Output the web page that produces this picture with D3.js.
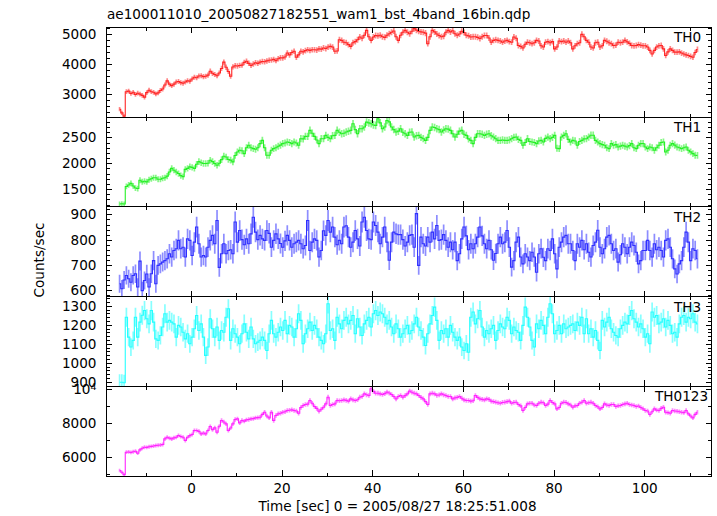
<!DOCTYPE html>
<html><head><meta charset="utf-8">
<script src="https://cdn.jsdelivr.net/npm/d3@7"></script>
<style>
body{margin:0;background:#fff}
svg{display:block}
text{font-family:"DejaVu Sans",sans-serif;font-size:13.6px;fill:#000}
</style>
</head><body><svg id="c" width="717" height="516"></svg>
<script>
const title = "ae100011010_20050827182551_wam1_bst_4band_16bin.qdp";
const xLabel = "Time [sec] 0 = 2005/08/27 18:25:51.008";
const yLabel = "Counts/sec";
const seriesNames = ["TH0","TH1","TH2","TH3","TH0123"];
const seriesColors = ["#ff2424","#24f024","#2f2fff","#24ffff","#ff24ff"];
const binStart = -15.75, binWidth = 0.5;

const th0 = [2500,2380,2270,3080,3100,3020,3060,2990,3030,3000,2960,2900,3050,3130,3080,3060,3010,3040,3120,3170,3300,3440,3330,3280,3330,3400,3420,3380,3360,3400,3440,3430,
3500,3560,3540,3600,3610,3580,3590,3630,3760,3690,3650,3610,3700,3850,4060,3890,3750,3590,3900,3940,3930,3950,3960,4050,4090,4020,3950,4000,4040,4020,4060,4080,
4070,4100,4120,4130,4150,4110,4170,4200,4200,4230,4360,4300,4380,4420,4220,4300,4420,4400,4440,4470,4450,4470,4470,4460,4500,4490,4530,4510,4560,4580,4560,4420,
4430,4800,4780,4720,4700,4640,4580,4700,4740,4800,4890,4850,4950,5110,4900,4780,4890,4940,4930,4950,4900,4880,4950,5000,5050,5090,4900,4780,4950,5050,5110,5050,
5000,5080,5170,5120,5080,5060,5050,5020,4670,4900,5110,5060,4990,4940,4900,4920,5050,5110,5060,5100,5000,4950,4990,5080,5040,4950,4930,4890,4900,4900,4880,4840,
4900,4940,4940,4860,4720,4780,4800,4780,4760,4720,4760,4780,4740,4720,4890,4850,4610,4580,4530,4650,4720,4700,4670,4700,4780,4760,4600,4560,4720,4740,4700,4740,
4500,4560,4760,4740,4760,4720,4760,4700,4500,4600,4670,4700,4980,4900,4780,4720,4560,4530,4700,4720,4560,4600,4780,4750,4700,4670,4610,4620,4720,4700,4720,4780,
4730,4680,4610,4600,4610,4640,4620,4600,4600,4560,4450,4330,4450,4560,4600,4610,4500,4280,4400,4500,4450,4390,4390,4400,4360,4330,4300,4280,4250,4220,4380,4480];

const th1 = [1210,1215,1212,1550,1580,1610,1560,1520,1510,1670,1640,1650,1640,1680,1700,1720,1720,1690,1690,1710,1720,1750,1830,1900,1865,1830,1800,1760,1740,1880,1900,1930,
1920,1900,1980,2030,2010,1994,1994,2000,2058,2030,1994,1962,2000,2070,2135,2120,2071,2060,2026,2150,2218,2250,2240,2186,2300,2346,2300,2282,2270,2300,2378,2442,
2300,2154,2154,2250,2282,2300,2327,2350,2378,2390,2410,2400,2378,2410,2390,2346,2474,2470,2519,2520,2635,2580,2519,2450,2378,2474,2474,2538,2500,2474,2530,2538,
2635,2600,2570,2580,2603,2620,2635,2763,2650,2570,2667,2667,2700,2795,2780,2763,2740,2731,2859,2780,2667,2700,2827,2800,2700,2650,2603,2620,2667,2600,2570,2538,
2600,2603,2506,2530,2538,2500,2474,2442,2500,2635,2700,2690,2667,2650,2603,2640,2667,2660,2635,2570,2506,2560,2620,2635,2560,2538,2470,2442,2378,2500,2570,2570,
2560,2538,2560,2570,2530,2506,2474,2442,2442,2450,2442,2440,2450,2474,2500,2506,2460,2442,2346,2400,2474,2420,2410,2400,2378,2430,2442,2410,2480,2506,2474,2500,
2538,2290,2282,2506,2538,2570,2460,2410,2442,2430,2346,2420,2442,2470,2474,2506,2540,2540,2442,2410,2378,2360,2346,2300,2282,2378,2346,2360,2314,2330,2346,2330,
2314,2340,2378,2300,2282,2346,2378,2380,2314,2282,2314,2300,2250,2300,2346,2400,2410,2218,2250,2346,2378,2350,2314,2300,2282,2300,2314,2250,2220,2186,2154,2150];

const th2 = [625,605,640,658,645,631,658,665,612,715,598,638,664,612,665,717,625,698,704,711,717,724,744,731,757,764,797,764,770,731,803,797,737,790,850,784,731,737,731,770,797,817,784,
876,690,744,784,744,757,760,744,870,
790,836,800,780,803,784,823,889,830,800,817,803,797,836,825,
770,797,823,803,785,770,795,817,797,770,784,790,797,784,764,777,876,757,790,
803,797,731,757,835,817,876,830,850,810,
780,797,784,850,855,810,770,790,836,803,775,870,889,836,803,800,870,856,830,784,810,850,790,718,790,830,823,820,820,800,775,790,817,820,770,903,698,810,784,775,
810,790,830,803,856,797,800,820,797,770,790,760,790,717,744,803,850,815,760,784,764,784,810,850,815,784,764,797,760,718,745,784,810,784,790,836,770,
691,717,790,810,731,704,744,731,717,750,731,671,744,764,730,717,764,757,803,744,684,770,790,810,817,784,784,757,717,784,770,797,760,784,750,731,777,790,837,770,
744,764,810,817,784,757,764,711,740,784,770,744,770,790,777,750,704,717,757,757,797,757,731,784,760,770,757,731,797,803,770,724,684,664,704,717,770,830,790,717,
764,757,724];

const th3 = [898,898,895,1240,1135,1083,1118,1240,1135,1214,1250,1275,1232,1205,1275,1214,1126,1118,1144,1188,
1258,1214,1223,1214,1205,1135,1197,1188,1161,1126,1153,1100,1135,1179,1249,1170,1205,1135,1039,1083,
1232,1179,1135,1188,1118,1170,1161,1240,1284,1118,1179,1153,1135,1100,1153,1205,1161,1126,1188,1126,
1100,1109,1118,1135,1118,1065,1153,1223,1153,1135,1161,1188,1170,1223,1153,1197,1188,1135,1179,1258,
1223,1100,1153,1179,1214,1170,1197,1179,1135,1118,1100,1153,1311,1170,1179,1118,1240,1205,1179,1223,
1240,1205,1223,1249,1153,1232,1188,1144,1205,1223,1240,1188,1258,1275,1249,1267,1258,1240,1205,1223,
1188,1153,1205,1179,1135,1153,1179,1197,1153,1170,1205,1240,1188,1170,1135,1091,1153,1205,1249,1293,
1223,1118,1170,1153,1179,1135,1197,1161,1135,1118,1135,1083,1065,1100,1056,1240,1267,1205,1232,1275,
1188,1135,1170,1153,1179,1197,1118,1170,1205,1188,1179,1240,1223,1153,1188,1170,1161,1118,1197,1293,
1240,1188,1118,1083,1205,1179,1223,1197,1153,1240,1311,1258,1153,1170,1197,1153,1205,1179,1188,1197,
1205,1170,1214,1197,1240,1153,1232,1153,1179,1135,1170,1118,1065,1223,1188,1214,1240,1179,1161,1144,
1135,1179,1197,1214,1205,1249,1275,1232,1214,1188,1205,1179,1135,1153,1100,1267,1240,1249,1205,1214,
1232,1188,1223,1197,1153,1161,1135,1205,1240,1249,1214,1240,1232,1258,1214,1205];

const th0123 = [5200,5100,4960,6275,6290,6260,6300,6334,6216,6412,6510,6570,6560,6600,6620,6640,6667,6680,6700,6726,7059,7157,7100,7059,7118,7150,7255,7200,7157,6961,7157,7250,
7314,7549,7549,7500,7353,7400,7353,7550,7784,7600,7706,7451,7800,8137,8050,7941,7549,7700,7941,8200,8235,8000,8137,8100,8176,8200,8235,8250,8294,8310,8333,8500,
8627,8400,8294,8627,8137,8431,8530,8568,8627,8650,8725,8740,8764,8725,8700,8568,8900,9019,9078,9100,9313,9150,8960,8850,8686,8800,8921,9117,9509,9019,9080,9117,
9313,9300,9313,9352,9320,9274,9411,9350,9313,9360,9509,9550,9705,9650,9607,10000,9850,9744,9744,9700,9666,9720,9803,9750,9666,9550,9411,9550,9607,9509,9600,9705,
9862,9800,9744,9700,9607,9500,9411,9250,9078,9705,9744,9700,9620,9640,9705,9650,9607,9548,9548,9411,9470,9500,9548,9450,9352,9313,9313,9274,9300,9607,9500,9411,
9380,9352,9411,9380,9274,9250,9215,9180,9156,9200,9215,9250,9274,9156,9200,9215,9078,9000,8725,8900,9117,9150,9156,9050,9019,9156,9215,9180,9019,9100,9313,9200,
9117,8823,8900,9156,9215,9200,9117,9050,8921,9000,9019,9150,9215,9313,9156,9180,9215,9150,9019,8950,8823,8900,9117,9050,9019,9078,9078,8960,9000,9019,9078,9117,
9156,9078,9050,9019,8960,8990,8900,8823,8725,8700,8490,8650,8823,8750,8725,8850,8921,8627,8600,8568,8725,8700,8686,8650,8627,8600,8725,8529,8400,8294,8500,8627];

const yDomains = [[2240,5213],[1156,2892],[574,930],[876,1348],[4865,10141]];
const yMajorTicks = [[3000,4000,5000],[1500,2000,2500],[600,700,800,900],[900,1000,1100,1200,1300],[6000,8000,10000]];
const yMinorSteps = [200,100,20,20,1000];
const xMajorTicks = [0,20,40,60,80,100];
const xMinorTicks = [-10,10,30,50,70,90,110];
const xDomain = [-18.75, 114.85];

const series = [th0, th1, th2, th3, th0123];
const svg = d3.select("#c");
const left = 106, right = 711.5, top0 = 27.3, bottom = 476.2;
const ph = (bottom - top0) / series.length;
const x = d3.scaleLinear().domain(xDomain).range([left, right]);
const times = d3.range(th0.length).map(i => binStart + i * binWidth);

function clean(g){
  g.select(".domain").remove();
  g.attr("font-family", null).attr("font-size", null);
  g.selectAll("line").attr("stroke", "#000");
  g.attr("shape-rendering", "crispEdges");
}

series.forEach((vals, i) => {
  const pTop = top0 + i * ph, pBot = pTop + ph;
  const y = d3.scaleLinear().domain(yDomains[i]).range([pBot, pTop]);
  const data = vals.map((v, j) => ({t: times[j], v: v, e: Math.sqrt(v / binWidth)}));
  const clipId = "clip" + i;
  svg.append("clipPath").attr("id", clipId).append("rect")
    .attr("x", left).attr("y", pTop).attr("width", right - left).attr("height", ph);
  const g = svg.append("g").attr("clip-path", `url(#${clipId})`);
  g.selectAll("line").data(data).join("line")
    .attr("x1", d => x(d.t)).attr("x2", d => x(d.t))
    .attr("y1", d => y(d.v - d.e)).attr("y2", d => y(d.v + d.e))
    .attr("stroke", seriesColors[i]).attr("stroke-opacity", 0.55).attr("stroke-width", 1.7);
  g.append("path").datum(data)
    .attr("d", d3.line().x(d => x(d.t)).y(d => y(d.v)).curve(d3.curveStep))
    .attr("fill", "none").attr("stroke", seriesColors[i]).attr("stroke-width", 1.1);

  const [d0, d1] = yDomains[i];
  const st = yMinorSteps[i];
  const minors = d3.range(Math.ceil(d0 / st) * st, d1, st).filter(v => !yMajorTicks[i].includes(v));
  svg.append("g").attr("transform", `translate(${left},0)`)
    .call(d3.axisLeft(y).tickValues(minors).tickSize(-3.5).tickFormat(""))
    .call(clean);
  svg.append("g").attr("transform", `translate(${right},0)`)
    .call(d3.axisRight(y).tickValues(minors).tickSize(-3.5).tickFormat(""))
    .call(clean);
  const ya = svg.append("g").attr("transform", `translate(${left},0)`)
    .call(d3.axisLeft(y).tickValues(yMajorTicks[i]).tickSize(-6).tickPadding(9.5)
      .tickFormat(v => String(v)))
    .call(clean);
  ya.selectAll(".tick text").filter(v => v === 10000).each(function(){
    const t = d3.select(this).text("10");
    t.append("tspan").attr("dy", "-0.42em").style("font-size", "9.5px").text("4");
  });
  svg.append("g").attr("transform", `translate(${right},0)`)
    .call(d3.axisRight(y).tickValues(yMajorTicks[i]).tickSize(-6).tickFormat(""))
    .call(clean);

  svg.append("g").attr("transform", `translate(0,${pTop})`)
    .call(d3.axisTop(x).tickValues(xMajorTicks).tickSize(-6).tickFormat("")).call(clean);
  svg.append("g").attr("transform", `translate(0,${pTop})`)
    .call(d3.axisTop(x).tickValues(xMinorTicks).tickSize(-3.5).tickFormat("")).call(clean);
  svg.append("g").attr("transform", `translate(0,${pBot})`)
    .call(d3.axisBottom(x).tickValues(xMinorTicks).tickSize(-3.5).tickFormat("")).call(clean);
  svg.append("g").attr("transform", `translate(0,${pBot})`)
    .call(d3.axisBottom(x).tickValues(xMajorTicks).tickSize(-6).tickPadding(7.6)
      .tickFormat(i === series.length - 1 ? d3.format("d") : ""))
    .call(clean);

  svg.append("rect").attr("x", left).attr("y", pTop).attr("width", right - left).attr("height", ph)
    .attr("fill", "none").attr("stroke", "#000").attr("stroke-width", 1).attr("shape-rendering", "crispEdges");

  svg.append("text").attr("x", i === series.length - 1 ? 655 : 674).attr("y", pTop + 15)
    .text(seriesNames[i]);
});

svg.append("text").attr("x", 107).attr("y", 19).text(title);
svg.append("text").attr("x", 397.5).attr("y", 510.5).attr("text-anchor", "middle").text(xLabel);
svg.append("text").attr("transform", "translate(43.5,260) rotate(-90)").attr("text-anchor", "middle").text(yLabel);
</script>
</body></html>
